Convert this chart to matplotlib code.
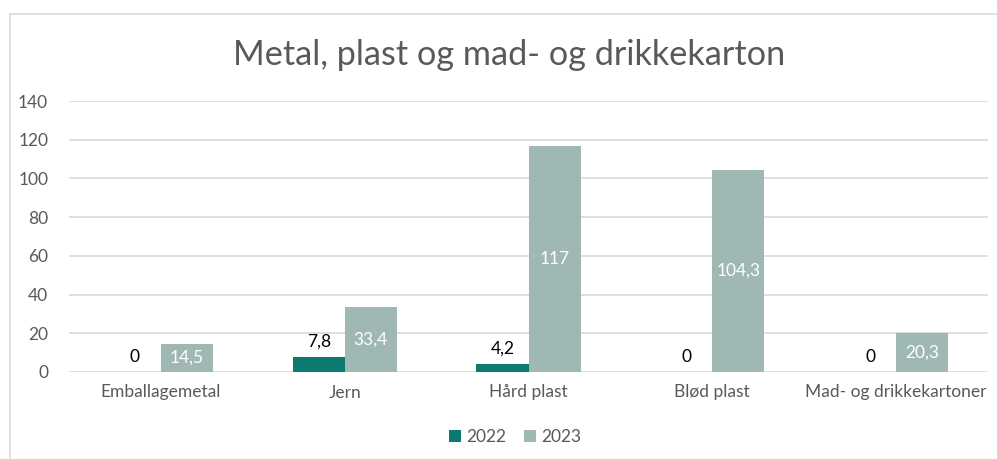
import numpy as np
from matplotlib import pyplot as plt
from matplotlib.patches import Rectangle

# data
categories = ["Emballagemetal", "Jern", "Hård plast", "Blød plast", "Mad- og drikkekartoner"]
values_2022 = [0, 7.8, 4.2, 0, 0]
values_2023 = [14.5, 33.4, 117, 104.3, 20.3]
series_names = ["2022", "2023"]
y_ticks = [0, 20, 40, 60, 80, 100, 120, 140]

col_2022 = "#0B7B70"
col_2023 = "#A0B8B3"
text_col = "#595959"
grid_col = "#D9D9D9"

plt.rcParams['font.family'] = ['Lato', 'DejaVu Sans']


def fmt(v):
    # danish decimal comma, integers without decimals
    if float(v).is_integer():
        return str(int(v))
    return ("%.1f" % v).replace(".", ",")


fig = plt.figure(figsize=(9.97, 4.59), dpi=100)

# outer chart frame (the right and bottom edges fall outside the picture)
fig.patches.append(Rectangle((10 / 997, -0.05), 1.2, 1 - 14 / 459 + 0.05,
                             transform=fig.transFigure, fill=False,
                             edgecolor="#D9D9D9", linewidth=1.2))

ax = fig.add_axes([69 / 997, 1 - 372 / 459, (988 - 69) / 997, (372 - 101) / 459])

x = np.arange(len(categories))
w = 0.283
b1 = ax.bar(x - w / 2, values_2022, w, color=col_2022, label=series_names[0], zorder=3)
b2 = ax.bar(x + w / 2, values_2023, w, color=col_2023, label=series_names[1], zorder=3)

ax.bar_label(b1, labels=[fmt(v) for v in values_2022], padding=5, fontsize=12.5, color="black")
ax.bar_label(b2, labels=[fmt(v) for v in values_2023], label_type="center", fontsize=12.5, color="white")

ax.set_xlim(-0.5, len(categories) - 0.5)
ax.set_ylim(0, 140)
ax.set_yticks(y_ticks)
ax.set_xticks(x)
ax.set_xticklabels(categories)
ax.tick_params(axis="both", length=0, labelsize=12.5, labelcolor=text_col)
ax.tick_params(axis="x", pad=9)
ax.tick_params(axis="y", pad=15)
ax.grid(axis="y", color=grid_col, linewidth=1.2, zorder=0)
for s in ax.spines.values():
    s.set_visible(False)

fig.text(0.511, 1 - 55 / 459, "Metal, plast og mad- og drikkekarton", ha="center", va="center",
         fontsize=24.7, color=text_col)

fig.legend(handles=[b1, b2], labels=series_names, loc="center", bbox_to_anchor=(0.517, 1 - 437 / 459),
           ncol=2, frameon=False, fontsize=12.5, handlelength=0.7, handleheight=0.7,
           handletextpad=0.3, columnspacing=1.0, labelcolor=text_col)

fig.savefig("out.png", dpi=100)
